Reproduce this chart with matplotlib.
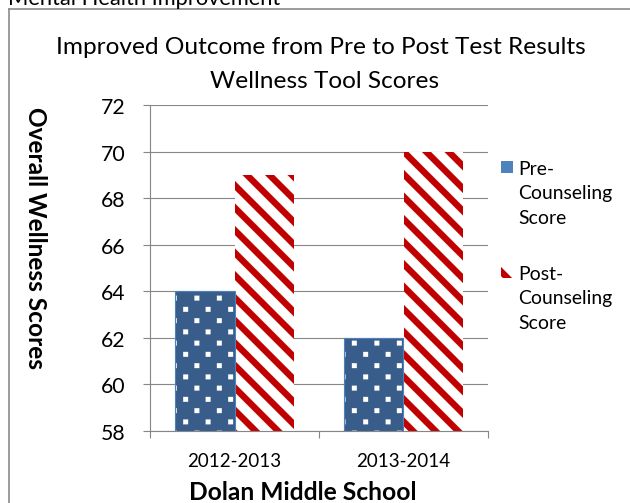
import numpy as np
import matplotlib
matplotlib.use("Agg")
import matplotlib.pyplot as plt
import matplotlib.hatch as mhatch
from matplotlib.path import Path
from matplotlib.patches import Rectangle
from matplotlib.lines import Line2D

# ---------------- data ----------------
categories = ["2012-2013", "2013-2014"]
pre_scores = [64, 62]
post_scores = [69, 70]
series_labels = ["Pre-\nCounseling\nScore", "Post-\nCounseling\nScore"]
y_ticks = [58, 60, 62, 64, 66, 68, 70, 72]
suptitle = "Mental Health Improvement"
title_lines = ["Improved Outcome from Pre to Post Test Results", "Wellness Tool Scores"]
x_label = "Dolan Middle School"
y_label = "Overall Wellness Scores"

# ---------------- custom hatch patterns (Excel-like) ----------------
class DotHatch(mhatch.HatchPatternBase):
    def __init__(self, hatch, density):
        self.num_vertices = 8 * 4 * 5 if hatch.count('.') else 0

    def set_vertices_and_codes(self, vertices, codes):
        s = 0.027
        k = 0
        for r in range(8):
            yc = (r + 0.5) / 8
            for c in range(4):
                xc = (c + 0.25 + 0.5 * (r % 2)) / 4
                vertices[k:k + 5] = [(xc - s, yc - s), (xc + s, yc - s),
                                     (xc + s, yc + s), (xc - s, yc + s),
                                     (xc - s, yc - s)]
                codes[k:k + 5] = [Path.MOVETO, Path.LINETO, Path.LINETO,
                                  Path.LINETO, Path.CLOSEPOLY]
                k += 5


class StripeHatch(mhatch.HatchPatternBase):
    def __init__(self, hatch, density):
        self.num_vertices = 10 * 5 if hatch.count('\\') else 0

    def set_vertices_and_codes(self, vertices, codes):
        w = 0.1
        k = 0
        for i in range(-1, 9):
            c0 = i * 0.25
            vertices[k:k + 5] = [(-1, c0 + 1), (2, c0 - 2), (2, c0 + w - 2),
                                 (-1, c0 + w + 1), (-1, c0 + 1)]
            codes[k:k + 5] = [Path.MOVETO, Path.LINETO, Path.LINETO,
                              Path.LINETO, Path.CLOSEPOLY]
            k += 5


mhatch._hatch_types = [DotHatch, StripeHatch]
plt.rcParams['hatch.linewidth'] = 0.1

# ---------------- style ----------------
FONT = "Lato"
plt.rcParams['font.family'] = [FONT, 'DejaVu Sans']
BLUE = "#385D8A"
BLUE_EDGE = "#4F81BD"
RED = "#C00000"
GREY = "#868686"

W, H, DPI = 630, 504, 90
fig = plt.figure(figsize=(W / DPI, H / DPI), dpi=DPI)

def fx(px):
    return px / W

def fy(py):
    return 1 - py / H

# border box (partially cropped)
fig.add_artist(Line2D([fx(9), fx(9)], [fy(9.5), fy(510)], color="#888888", lw=1.3))
fig.add_artist(Line2D([fx(9), fx(640)], [fy(9.5), fy(9.5)], color="#888888", lw=1.3))

fig.text(fx(8), fy(5), suptitle, fontsize=17.5, va='baseline', ha='left', color='black')

ax_l, ax_r, ax_t, ax_b = 150, 488, 106, 432
ax = fig.add_axes([fx(ax_l), fy(ax_b), fx(ax_r - ax_l), fy(ax_t) - fy(ax_b)])

x = np.arange(len(categories))
bw = 0.35
ax.bar(x - bw, pre_scores, width=bw, align='edge',
       facecolor=BLUE, edgecolor='white', hatch='.', linewidth=0, zorder=2)
ax.bar(x - bw, pre_scores, width=bw, align='edge',
       fill=False, edgecolor=BLUE_EDGE, linewidth=0.9, zorder=3)
ax.bar(x, post_scores, width=bw, align='edge',
       facecolor='white', edgecolor=RED, hatch='\\', linewidth=0, zorder=2)

ax.set_xlim(-0.5, len(categories) - 0.5)
ax.set_ylim(y_ticks[0], y_ticks[-1])
ax.set_yticks(y_ticks)
ax.set_yticklabels([str(t) for t in y_ticks])
ax.set_xticks(x)
ax.set_xticklabels(categories)
ax.set_xticks(np.arange(-0.5, len(categories)), minor=True)

ax.set_axisbelow(True)
ax.grid(axis='y', color=GREY, linewidth=0.9, zorder=0)
for s in ['top', 'right']:
    ax.spines[s].set_visible(False)
for s in ['left', 'bottom']:
    ax.spines[s].set_color(GREY)
    ax.spines[s].set_linewidth(0.9)
ax.tick_params(axis='y', which='major', length=5.6, width=0.9, color=GREY,
               labelsize=17, pad=14, direction='out')
ax.tick_params(axis='x', which='major', length=0, labelsize=15, pad=17)
ax.tick_params(axis='x', which='minor', length=5.6, width=0.9, color=GREY, direction='out')

# titles
fig.text(fx(321), fy(47), title_lines[0], fontsize=19.5, ha='center', va='center')
fig.text(fx(325), fy(82), title_lines[1], fontsize=19.5, ha='center', va='center')
fig.text(fx(303), fy(493), x_label, fontsize=19.7, fontweight='bold', ha='center', va='center')
fig.text(fx(35), fy(238), y_label, fontsize=19.5, fontweight='bold', ha='center',
         va='center', rotation=-90)

# legend (manual)
leg_y = [168, 273]
handles = [dict(facecolor=BLUE_EDGE, edgecolor=BLUE_EDGE, hatch=None),
           dict(facecolor='white', edgecolor=RED, hatch='\\')]
for yy, lab, hd in zip(leg_y, series_labels, handles):
    r = Rectangle((fx(501), fy(yy + 6)), fx(12), fy(yy - 6) - fy(yy + 6),
                  transform=fig.transFigure, linewidth=0, **hd)
    fig.add_artist(r)
    fig.text(fx(518), fy(yy - 7), lab, fontsize=15.5, ha='left', va='top',
             linespacing=1.52)

fig.savefig("out.png", dpi=DPI)
